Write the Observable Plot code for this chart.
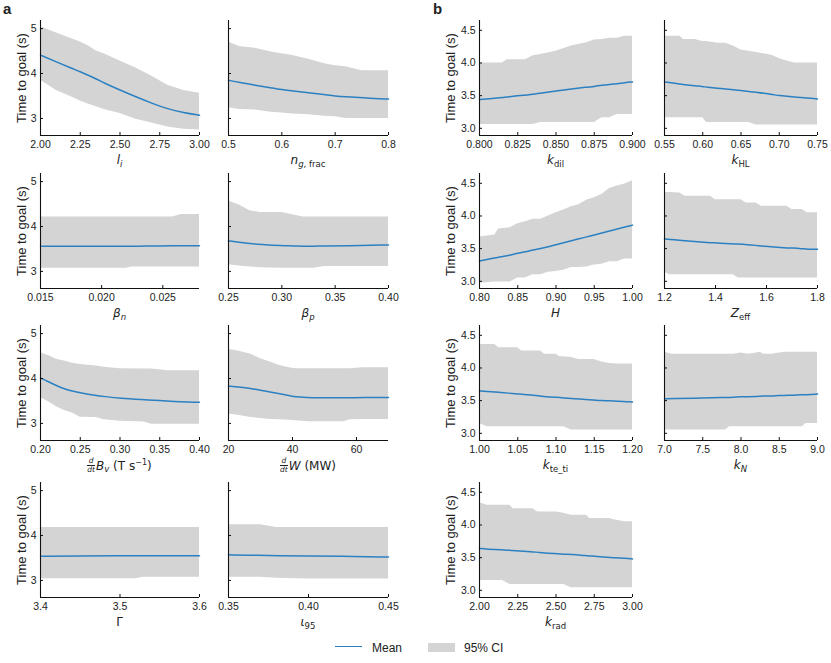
<!DOCTYPE html>
<html><head><meta charset="utf-8">
<script src="https://cdn.jsdelivr.net/npm/d3@7"></script>
<script src="https://cdn.jsdelivr.net/npm/@observablehq/plot@0.6"></script>
<style>
body{margin:0;background:#fff;}
#fig{position:relative;width:831px;height:663px;overflow:hidden;font-family:"Liberation Sans",Arial,sans-serif;color:#222;}
#fig svg{position:absolute;overflow:visible;}
.xl{position:absolute;text-align:center;font-family:"DejaVu Sans",sans-serif;font-size:12px;line-height:14px;white-space:nowrap;color:#222;}
.xl sub{font-size:8.5px;vertical-align:-0.35em;line-height:0;}
.xl sup{font-size:8px;vertical-align:0.55em;line-height:0;}
.yl{position:absolute;font-size:13px;line-height:15px;white-space:nowrap;transform:translate(-50%,-50%) rotate(-90deg);color:#222;}
.frac{display:inline-flex;flex-direction:column;vertical-align:middle;font-size:7.5px;line-height:7.5px;text-align:center;font-style:italic;margin-right:1px;position:relative;top:-1px;}
.frac span:first-child{border-bottom:0.8px solid #222;}
.letter{position:absolute;font-weight:bold;font-size:15px;line-height:15px;}
.leg{position:absolute;font-size:12px;line-height:14px;color:#222;}
</style></head>
<body><div id="fig"></div>
<script>
// ---------- y-axis (Time to goal) ----------
const yA_domain = [2.62, 5.18], yA_ticks = [3, 4, 5];
const yB_domain = [2.89, 4.65], yB_ticks = [3.0, 3.5, 4.0, 4.5];

// ---------- panel a ----------
const li_x    = [2.00, 2.10, 2.20, 2.25, 2.30, 2.35, 2.40, 2.50, 2.60, 2.70, 2.80, 2.90, 3.00];
const li_mean = [4.41, 4.26, 4.11, 4.04, 3.96, 3.88, 3.79, 3.63, 3.48, 3.34, 3.21, 3.13, 3.07];
const li_hi   = [5.04, 4.90, 4.77, 4.70, 4.62, 4.50, 4.44, 4.28, 4.12, 3.94, 3.74, 3.62, 3.56];
const li_lo   = [3.85, 3.62, 3.47, 3.39, 3.32, 3.26, 3.20, 3.11, 2.98, 2.90, 2.81, 2.76, 2.74];
const li_ticks = [2.00, 2.25, 2.50, 2.75, 3.00];

const ng_x    = [0.50, 0.52, 0.55, 0.58, 0.60, 0.62, 0.65, 0.68, 0.70, 0.72, 0.75, 0.80];
const ng_mean = [3.85, 3.80, 3.74, 3.68, 3.64, 3.61, 3.57, 3.53, 3.50, 3.48, 3.46, 3.43];
const ng_hi   = [4.70, 4.60, 4.56, 4.48, 4.44, 4.40, 4.32, 4.22, 4.17, 4.15, 4.06, 4.06];
const ng_lo   = [3.24, 3.20, 3.19, 3.14, 3.12, 3.10, 3.08, 3.05, 3.04, 3.00, 3.00, 3.00];
const ng_ticks = [0.5, 0.6, 0.7, 0.8];

const bn_x    = [0.015, 0.018, 0.020, 0.022, 0.0225, 0.025, 0.0258, 0.0265, 0.028];
const bn_mean = [3.56, 3.56, 3.56, 3.56, 3.56, 3.57, 3.57, 3.57, 3.57];
const bn_hi   = [4.21, 4.21, 4.21, 4.21, 4.21, 4.21, 4.21, 4.27, 4.27];
const bn_lo   = [3.07, 3.07, 3.07, 3.07, 3.10, 3.10, 3.10, 3.10, 3.10];
const bn_ticks = [0.015, 0.020, 0.025];

const bp_x    = [0.25, 0.26, 0.27, 0.28, 0.30, 0.31, 0.32, 0.33, 0.34, 0.36, 0.40];
const bp_mean = [3.68, 3.65, 3.62, 3.60, 3.57, 3.57, 3.56, 3.56, 3.57, 3.57, 3.59];
const bp_hi   = [4.57, 4.48, 4.35, 4.31, 4.31, 4.26, 4.21, 4.21, 4.21, 4.21, 4.21];
const bp_lo   = [3.15, 3.12, 3.10, 3.08, 3.07, 3.07, 3.07, 3.07, 3.11, 3.11, 3.11];
const bp_ticks = [0.25, 0.30, 0.35, 0.40];

const bv_x    = [0.20, 0.21, 0.22, 0.23, 0.24, 0.25, 0.27, 0.28, 0.30, 0.33, 0.34, 0.36, 0.40];
const bv_mean = [4.01, 3.93, 3.84, 3.77, 3.72, 3.68, 3.62, 3.60, 3.56, 3.53, 3.52, 3.49, 3.47];
const bv_hi   = [4.57, 4.51, 4.43, 4.39, 4.34, 4.31, 4.28, 4.25, 4.22, 4.21, 4.21, 4.17, 4.17];
const bv_lo   = [3.57, 3.48, 3.37, 3.29, 3.23, 3.14, 3.13, 3.08, 3.05, 3.03, 2.98, 2.98, 2.98];
const bv_ticks = [0.20, 0.25, 0.30, 0.35, 0.40];

const dw_x    = [20, 23, 27, 30, 33, 36, 39, 41, 45, 56, 58, 62, 70];
const dw_mean = [3.83, 3.81, 3.78, 3.74, 3.70, 3.66, 3.62, 3.59, 3.57, 3.57, 3.57, 3.58, 3.58];
const dw_hi   = [4.65, 4.61, 4.54, 4.44, 4.37, 4.29, 4.24, 4.22, 4.22, 4.22, 4.22, 4.24, 4.24];
const dw_lo   = [3.21, 3.18, 3.13, 3.11, 3.09, 3.08, 3.07, 3.06, 3.04, 3.04, 3.08, 3.09, 3.09];
const dw_ticks = [20, 40, 60];

const gm_x    = [3.40, 3.45, 3.50, 3.52, 3.53, 3.55, 3.60];
const gm_mean = [3.54, 3.54, 3.55, 3.55, 3.55, 3.55, 3.55];
const gm_hi   = [4.18, 4.18, 4.18, 4.18, 4.18, 4.18, 4.18];
const gm_lo   = [3.04, 3.04, 3.04, 3.04, 3.07, 3.07, 3.07];
const gm_ticks = [3.4, 3.5, 3.6];

const io_x    = [0.35, 0.37, 0.38, 0.40, 0.42, 0.45];
const io_mean = [3.57, 3.56, 3.55, 3.54, 3.54, 3.52];
const io_hi   = [4.24, 4.24, 4.18, 4.18, 4.18, 4.18];
const io_lo   = [3.07, 3.07, 3.05, 3.03, 3.03, 3.03];
const io_ticks = [0.35, 0.40, 0.45];

// ---------- panel b ----------
const kd_x    = [0.800, 0.815, 0.818, 0.830, 0.835, 0.840, 0.850, 0.860, 0.870, 0.875, 0.880, 0.885, 0.890, 0.895, 0.900];
const kd_mean = [3.44, 3.47, 3.48, 3.51, 3.52, 3.54, 3.57, 3.60, 3.63, 3.64, 3.66, 3.67, 3.68, 3.70, 3.71];
const kd_hi   = [4.00, 4.00, 4.05, 4.05, 4.11, 4.13, 4.18, 4.26, 4.31, 4.35, 4.36, 4.38, 4.38, 4.41, 4.41];
const kd_lo   = [3.06, 3.06, 3.06, 3.06, 3.06, 3.09, 3.09, 3.09, 3.09, 3.09, 3.16, 3.16, 3.21, 3.21, 3.21];
const kd_ticks = [0.800, 0.825, 0.850, 0.875, 0.900];

const kh_x    = [0.55, 0.57, 0.575, 0.59, 0.60, 0.605, 0.62, 0.63, 0.64, 0.65, 0.66, 0.67, 0.69, 0.70, 0.71, 0.72, 0.75];
const kh_mean = [3.71, 3.68, 3.67, 3.65, 3.64, 3.63, 3.61, 3.60, 3.59, 3.58, 3.56, 3.55, 3.52, 3.50, 3.49, 3.48, 3.45];
const kh_hi   = [4.41, 4.41, 4.36, 4.36, 4.33, 4.33, 4.30, 4.30, 4.26, 4.20, 4.18, 4.16, 4.12, 4.07, 4.03, 4.00, 4.00];
const kh_lo   = [3.16, 3.16, 3.16, 3.16, 3.16, 3.09, 3.09, 3.09, 3.09, 3.09, 3.09, 3.05, 3.05, 3.05, 3.05, 3.05, 3.05];
const kh_ticks = [0.55, 0.60, 0.65, 0.70, 0.75];

const hh_x    = [0.80, 0.82, 0.825, 0.84, 0.85, 0.86, 0.87, 0.88, 0.89, 0.90, 0.91, 0.92, 0.93, 0.94, 0.95, 0.96, 0.97, 0.98, 0.99, 1.00];
const hh_mean = [3.31, 3.36, 3.37, 3.40, 3.43, 3.45, 3.48, 3.50, 3.53, 3.56, 3.59, 3.62, 3.65, 3.68, 3.71, 3.74, 3.77, 3.80, 3.83, 3.86];
const hh_hi   = [3.68, 3.71, 3.80, 3.82, 3.88, 3.91, 3.95, 3.95, 4.00, 4.05, 4.09, 4.14, 4.17, 4.24, 4.28, 4.33, 4.42, 4.46, 4.49, 4.54];
const hh_lo   = [2.97, 2.99, 2.99, 2.99, 3.05, 3.05, 3.10, 3.10, 3.14, 3.15, 3.17, 3.21, 3.21, 3.22, 3.25, 3.26, 3.30, 3.30, 3.34, 3.34];
const hh_ticks = [0.80, 0.85, 0.90, 0.95, 1.00];

const ze_x    = [1.20, 1.22, 1.26, 1.28, 1.38, 1.40, 1.47, 1.49, 1.50, 1.52, 1.56, 1.58, 1.68, 1.70, 1.74, 1.76, 1.80];
const ze_mean = [3.65, 3.64, 3.63, 3.62, 3.59, 3.59, 3.57, 3.57, 3.57, 3.56, 3.55, 3.54, 3.51, 3.51, 3.50, 3.49, 3.49];
const ze_hi   = [4.36, 4.36, 4.35, 4.30, 4.30, 4.25, 4.25, 4.25, 4.25, 4.20, 4.20, 4.15, 4.15, 4.10, 4.10, 4.05, 4.05];
const ze_lo   = [3.14, 3.10, 3.10, 3.10, 3.10, 3.10, 3.10, 3.05, 3.05, 3.05, 3.05, 3.05, 3.05, 3.05, 3.05, 3.05, 3.05];
const ze_ticks = [1.2, 1.4, 1.6, 1.8];

const kt_x    = [1.00, 1.01, 1.02, 1.025, 1.05, 1.055, 1.08, 1.085, 1.10, 1.105, 1.11, 1.12, 1.13, 1.15, 1.16, 1.17, 1.18, 1.20];
const kt_mean = [3.65, 3.64, 3.63, 3.63, 3.60, 3.60, 3.57, 3.56, 3.55, 3.55, 3.54, 3.53, 3.53, 3.51, 3.50, 3.50, 3.49, 3.48];
const kt_hi   = [4.36, 4.36, 4.36, 4.31, 4.31, 4.26, 4.26, 4.21, 4.21, 4.17, 4.17, 4.16, 4.13, 4.13, 4.09, 4.07, 4.06, 4.06];
const kt_lo   = [3.15, 3.10, 3.10, 3.10, 3.10, 3.10, 3.10, 3.10, 3.10, 3.10, 3.10, 3.05, 3.05, 3.05, 3.05, 3.05, 3.05, 3.05];
const kt_ticks = [1.00, 1.05, 1.10, 1.15, 1.20];

const kn_x    = [7.0, 7.1, 7.5, 7.8, 7.85, 7.9, 8.0, 8.1, 8.2, 8.25, 8.3, 8.4, 8.5, 8.6, 8.8, 8.85, 9.0];
const kn_mean = [3.53, 3.53, 3.54, 3.55, 3.55, 3.55, 3.56, 3.56, 3.56, 3.57, 3.57, 3.57, 3.58, 3.58, 3.59, 3.59, 3.60];
const kn_hi   = [4.24, 4.21, 4.21, 4.21, 4.21, 4.21, 4.23, 4.21, 4.23, 4.24, 4.21, 4.21, 4.23, 4.24, 4.24, 4.24, 4.24];
const kn_lo   = [3.05, 3.05, 3.05, 3.05, 3.10, 3.10, 3.10, 3.10, 3.10, 3.10, 3.10, 3.10, 3.10, 3.10, 3.10, 3.15, 3.15];
const kn_ticks = [7.0, 7.5, 8.0, 8.5, 9.0];

const kr_x    = [2.00, 2.05, 2.15, 2.20, 2.22, 2.35, 2.38, 2.50, 2.55, 2.60, 2.70, 2.72, 2.85, 2.88, 2.95, 3.00];
const kr_mean = [3.64, 3.63, 3.62, 3.61, 3.61, 3.59, 3.58, 3.56, 3.55, 3.55, 3.53, 3.53, 3.50, 3.50, 3.49, 3.48];
const kr_hi   = [4.34, 4.30, 4.30, 4.30, 4.25, 4.25, 4.20, 4.20, 4.18, 4.15, 4.15, 4.10, 4.10, 4.08, 4.05, 4.05];
const kr_lo   = [3.15, 3.15, 3.15, 3.09, 3.09, 3.09, 3.09, 3.09, 3.09, 3.04, 3.04, 3.04, 3.04, 3.04, 3.04, 3.04];
const kr_ticks = [2.00, 2.25, 2.50, 2.75, 3.00];

// ---------- labels ----------
const FR = '<span class="frac"><span>d</span><span>dt</span></span>';
const panels = [
  {g:"a", col:0, row:0, x:li_x, mean:li_mean, lo:li_lo, hi:li_hi, ticks:li_ticks, fmt:".2f", domain:[2.0, 3.0], label:'<i>l</i><sub><i>i</i></sub>'},
  {g:"a", col:1, row:0, x:ng_x, mean:ng_mean, lo:ng_lo, hi:ng_hi, ticks:ng_ticks, fmt:".1f", domain:[0.5, 0.8], label:'<i>n</i><sub><i>g</i>, frac</sub>'},
  {g:"a", col:0, row:1, x:bn_x, mean:bn_mean, lo:bn_lo, hi:bn_hi, ticks:bn_ticks, fmt:".3f", domain:[0.015, 0.028], label:'<i>β</i><sub><i>n</i></sub>'},
  {g:"a", col:1, row:1, x:bp_x, mean:bp_mean, lo:bp_lo, hi:bp_hi, ticks:bp_ticks, fmt:".2f", domain:[0.25, 0.40], label:'<i>β</i><sub><i>p</i></sub>'},
  {g:"a", col:0, row:2, x:bv_x, mean:bv_mean, lo:bv_lo, hi:bv_hi, ticks:bv_ticks, fmt:".2f", domain:[0.20, 0.40], label:FR+'<i>B</i><sub><i>v</i></sub> (T s<sup>−1</sup>)'},
  {g:"a", col:1, row:2, x:dw_x, mean:dw_mean, lo:dw_lo, hi:dw_hi, ticks:dw_ticks, fmt:"d", domain:[20, 70], label:FR+'<i>W</i> (MW)'},
  {g:"a", col:0, row:3, x:gm_x, mean:gm_mean, lo:gm_lo, hi:gm_hi, ticks:gm_ticks, fmt:".1f", domain:[3.4, 3.6], label:'Γ'},
  {g:"a", col:1, row:3, x:io_x, mean:io_mean, lo:io_lo, hi:io_hi, ticks:io_ticks, fmt:".2f", domain:[0.35, 0.45], label:'<i>ι</i><sub>95</sub>'},
  {g:"b", col:0, row:0, x:kd_x, mean:kd_mean, lo:kd_lo, hi:kd_hi, ticks:kd_ticks, fmt:".3f", domain:[0.8, 0.9], label:'<i>k</i><sub>dil</sub>'},
  {g:"b", col:1, row:0, x:kh_x, mean:kh_mean, lo:kh_lo, hi:kh_hi, ticks:kh_ticks, fmt:".2f", domain:[0.55, 0.75], label:'<i>k</i><sub>HL</sub>'},
  {g:"b", col:0, row:1, x:hh_x, mean:hh_mean, lo:hh_lo, hi:hh_hi, ticks:hh_ticks, fmt:".2f", domain:[0.8, 1.0], label:'<i>H</i>'},
  {g:"b", col:1, row:1, x:ze_x, mean:ze_mean, lo:ze_lo, hi:ze_hi, ticks:ze_ticks, fmt:".1f", domain:[1.2, 1.8], label:'<i>Z</i><sub>eff</sub>'},
  {g:"b", col:0, row:2, x:kt_x, mean:kt_mean, lo:kt_lo, hi:kt_hi, ticks:kt_ticks, fmt:".2f", domain:[1.0, 1.2], label:'<i>k</i><sub>te_ti</sub>'},
  {g:"b", col:1, row:2, x:kn_x, mean:kn_mean, lo:kn_lo, hi:kn_hi, ticks:kn_ticks, fmt:".1f", domain:[7.0, 9.0], label:'<i>k</i><sub><i>N</i></sub>'},
  {g:"b", col:0, row:3, x:kr_x, mean:kr_mean, lo:kr_lo, hi:kr_hi, ticks:kr_ticks, fmt:".2f", domain:[2.0, 3.0], label:'<i>k</i><sub>rad</sub>'}
];

// ---------- layout ----------
const colLeft  = [40, 228, 479, 664];
const colWidth = [159, 160, 153, 153];
const rowBottom = [135, 288, 440, 597];
const PH = 115;
const BLUE = "#2b80c2", GREY = "#d4d4d4", INK = "#111";
const mL = 34, mR = 20, mT = 4, mB = 22;

const fig = document.getElementById("fig");

function add(html, cls, css) {
  const d = document.createElement("div");
  d.className = cls; d.innerHTML = html;
  Object.assign(d.style, css);
  fig.appendChild(d);
  return d;
}

for (const p of panels) {
  const yd = p.g === "a" ? yA_domain : yB_domain;
  const yt = p.g === "a" ? yA_ticks : yB_ticks;
  const yf = p.g === "a" ? d3.format("d") : d3.format(".1f");
  const ci = (p.g === "a" ? 0 : 2) + p.col;
  const pl = colLeft[ci], pw = colWidth[ci];
  const pb = rowBottom[p.row], pt = pb - PH;
  const rows = p.x.map((x, i) => ({x, m: p.mean[i], lo: p.lo[i], hi: p.hi[i]}));
  const marks = [
    Plot.areaY(rows, {x: "x", y1: "lo", y2: "hi", fill: GREY, curve: "linear"}),
    Plot.lineY(rows, {x: "x", y: "m", stroke: BLUE, strokeWidth: 1.5, curve: "basis"}),
    Plot.tickX(p.ticks, {x: d => d, insetTop: PH - 3, stroke: INK}),
    Plot.tickY(yt, {y: d => d, insetRight: pw - 3, stroke: INK}),
    Plot.ruleY([yd[0]], {stroke: INK, strokeWidth: 1.1}),
    Plot.ruleX([p.domain[0]], {stroke: INK, strokeWidth: 1.1}),
    Plot.axisX(p.ticks, {tickSize: 0, tickPadding: 5, tickFormat: d3.format(p.fmt), label: null})
  ];
  if (p.col === 0) marks.push(Plot.axisY(yt, {tickSize: 0, tickPadding: 4, tickFormat: yf, label: null}));
  const svg = Plot.plot({
    width: pw + mL + mR, height: PH + mT + mB,
    marginLeft: mL, marginRight: mR, marginTop: mT, marginBottom: mB,
    x: {domain: p.domain, label: null},
    y: p.col === 0 ? {domain: yd, label: null} : {domain: yd, label: null, axis: null},
    style: {fontFamily: '"Liberation Sans", Arial, sans-serif', fontSize: "10.5px", color: "#222", background: "none", overflow: "visible"},
    marks
  });
  svg.style.left = (pl - mL) + "px";
  svg.style.top = (pt - mT) + "px";
  fig.appendChild(svg);
  add(p.label, "xl", {left: pl + "px", width: pw + "px", top: (pb + 18) + "px"});
  if (p.col === 0) {
    add("Time to goal (s)", "yl", {left: (p.g === "a" ? 21 : 450) + "px", top: ((pt + pb) / 2) + "px"});
  }
}

add("a", "letter", {left: "3px", top: "1px"});
add("b", "letter", {left: "433px", top: "1px"});

// legend
add("", "leg", {left: "335px", top: "646px", width: "27px", height: "0px", borderTop: "1.5px solid " + BLUE});
add("Mean", "leg", {left: "372px", top: "641px"});
add("", "leg", {left: "428px", top: "643px", width: "27px", height: "9px", background: GREY});
add("95% CI", "leg", {left: "464px", top: "641px"});
</script>
</body></html>
